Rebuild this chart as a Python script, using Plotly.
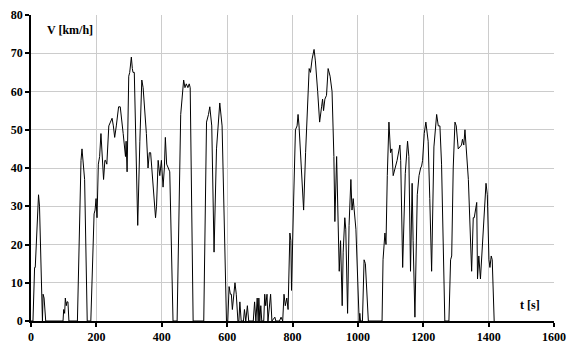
import plotly.graph_objects as go

# Driving cycle: time [s] and speed [km/h]
time_s = [
    0, 6, 11, 13, 23, 26, 35, 37, 40, 45,
    98, 100, 103, 105, 108, 110, 113, 116,
    142, 150, 153, 156, 160, 164, 172,
    183, 193, 196, 199, 202, 206, 210, 214, 217, 222, 226, 228, 232, 238, 243,
    248, 252, 256, 261, 264, 268, 273, 277, 282, 289, 291, 294, 299, 302, 307,
    310, 312, 316, 324, 326.5, 333, 339, 343, 348, 353, 358, 362, 366, 371.5,
    376, 381, 384, 389, 394, 399, 404, 408, 411, 415, 420, 424.5, 434.5,
    447, 458, 462, 467, 471, 475, 480, 484, 487, 496,
    528.5, 537, 543, 547, 553, 560, 567.5, 572, 577.5, 584.6, 590, 598,
    602, 606, 610, 613, 616, 621, 624, 628, 633, 636, 639, 643, 650, 653, 657,
    662, 666, 680, 684, 688, 692, 695, 697, 700, 703, 706, 712, 715, 718, 722,
    725, 733, 737, 746, 749, 760, 765, 770, 774, 778, 782.6, 786.5, 792, 795,
    797, 803, 809, 814, 817, 820, 827.6, 834, 840, 845, 851, 855, 860, 866,
    870, 877, 883, 889, 892, 895, 899, 904, 909, 915, 921, 926.6, 929.6, 935,
    938, 943, 947, 952, 955, 960, 963, 968.5, 973, 978.6, 982, 985.7, 994,
    1004, 1006, 1008, 1014, 1019, 1023, 1032,
    1074, 1077, 1082.7, 1086, 1090, 1095, 1100, 1104, 1108, 1114, 1120,
    1128.5, 1131, 1137, 1141, 1145, 1152, 1156, 1161, 1166, 1169, 1174.5,
    1181.7, 1187, 1192, 1195, 1198, 1203, 1208, 1212, 1215, 1220, 1225.6,
    1232.6, 1241, 1246, 1251, 1256, 1261, 1266,
    1278.5, 1283.6, 1287, 1291.7, 1297, 1301, 1307, 1312, 1317, 1320, 1324,
    1327.6, 1338, 1348, 1353, 1356, 1360, 1363.6, 1366, 1370, 1375, 1381,
    1386, 1390, 1392, 1396, 1401, 1404, 1408, 1411, 1417,
]
speed_kmh = [
    0, 0, 14, 14, 33, 30, 0, 7, 6, 0,
    0, 3, 2, 6, 4, 5, 5, 0,
    0, 32, 42, 45, 40, 37, 0,
    0, 28, 29, 32, 27, 41, 43, 49, 45, 37, 42, 42, 41, 51, 52,
    53, 51, 48, 51, 53, 56, 56, 52, 49, 43, 47, 39, 64, 65, 69,
    66, 65, 65, 36, 25, 47, 63, 61, 55, 49, 40, 44, 44, 37,
    32, 27, 30, 42, 38, 42, 35, 40, 48, 41, 40, 39, 0,
    0, 54, 59, 63, 61, 62, 61, 62, 61, 0,
    0, 52, 54, 56, 51, 18, 45, 51, 57, 51, 30, 0,
    0, 9, 7, 7, 3, 7, 10, 7, 0, 0, 5, 0, 0, 3, 0,
    4, 0, 0, 5, 0, 6, 0, 6, 0, 4, 0, 0, 7, 4, 7,
    0, 7, 0, 1, 0, 0, 1, 0, 7, 4, 6, 3, 23, 21,
    8, 30, 50, 51, 54, 51, 40, 29, 44, 55, 66, 65, 68.5, 71,
    68, 60, 52, 56, 58, 55, 58, 59, 66, 64, 60, 43, 26, 43,
    32, 13, 21, 4, 18, 27, 24, 2, 25, 37, 29, 32, 24,
    0, 2, 0, 0, 16, 15, 0,
    0, 16, 23, 20, 38, 52, 44, 45, 38, 40, 42,
    46, 42, 14, 25, 38.5, 47, 43, 13, 36, 21, 1,
    33, 38, 40, 40.5, 42, 49, 52, 49, 47, 32, 13,
    45.5, 54, 51, 51, 41, 23, 0,
    0, 16, 17, 40, 52, 51, 45, 45.5, 46, 47.5, 46,
    50, 37, 13, 27, 27, 30, 31, 11, 17, 11, 20,
    25, 32, 36, 33, 16, 14, 17, 16, 0,
]
assert len(time_s) == len(speed_kmh)

x_ticks = [0, 200, 400, 600, 800, 1000, 1200, 1400, 1600]
y_ticks = [0, 10, 20, 30, 40, 50, 60, 70, 80]
x_max = x_ticks[-1]
y_max = y_ticks[-1]

font_family = "Liberation Serif, Times New Roman, serif"
label_font = dict(family=font_family, size=12, color="black", weight="bold")

fig = go.Figure()
fig.add_trace(go.Scatter(
    x=time_s, y=speed_kmh, mode="lines",
    line=dict(color="black", width=1),
    hoverinfo="skip", showlegend=False,
))

axis_common = dict(
    showline=True, linecolor="black", linewidth=1.5,
    ticks="outside", ticklen=4, tickcolor="black", tickwidth=1.5,
    showgrid=True, gridcolor="#cccccc", gridwidth=1,
    zeroline=False, automargin=False,
    tickfont=label_font,
)

fig.update_xaxes(range=[0, x_max], tickvals=x_ticks,
                 ticktext=[str(v) for v in x_ticks], **axis_common)
fig.update_yaxes(range=[0, y_max], tickvals=y_ticks,
                 ticktext=[str(v) for v in y_ticks], **axis_common)

# hide the vertical grid line on the right edge (not present in the original)
fig.add_shape(type="line", x0=x_max, x1=x_max, y0=0, y1=y_max,
              xref="x", yref="y", layer="below",
              line=dict(color="white", width=2))

fig.add_annotation(x=42, y=76, text="V [km/h]", showarrow=False,
                   xanchor="left", yanchor="middle", font=label_font)
fig.add_annotation(x=1527, y=4.3, text="t [s]", showarrow=False,
                   xanchor="center", yanchor="middle", font=label_font)

fig.update_layout(
    width=567, height=344,
    margin=dict(l=31, r=13, t=15, b=23, autoexpand=False),
    paper_bgcolor="white", plot_bgcolor="white",
)

fig.write_html(
    "out.html",
    config={"displayModeBar": False},
    post_script="document.body.style.margin='0';document.body.style.overflow='hidden';",
)
